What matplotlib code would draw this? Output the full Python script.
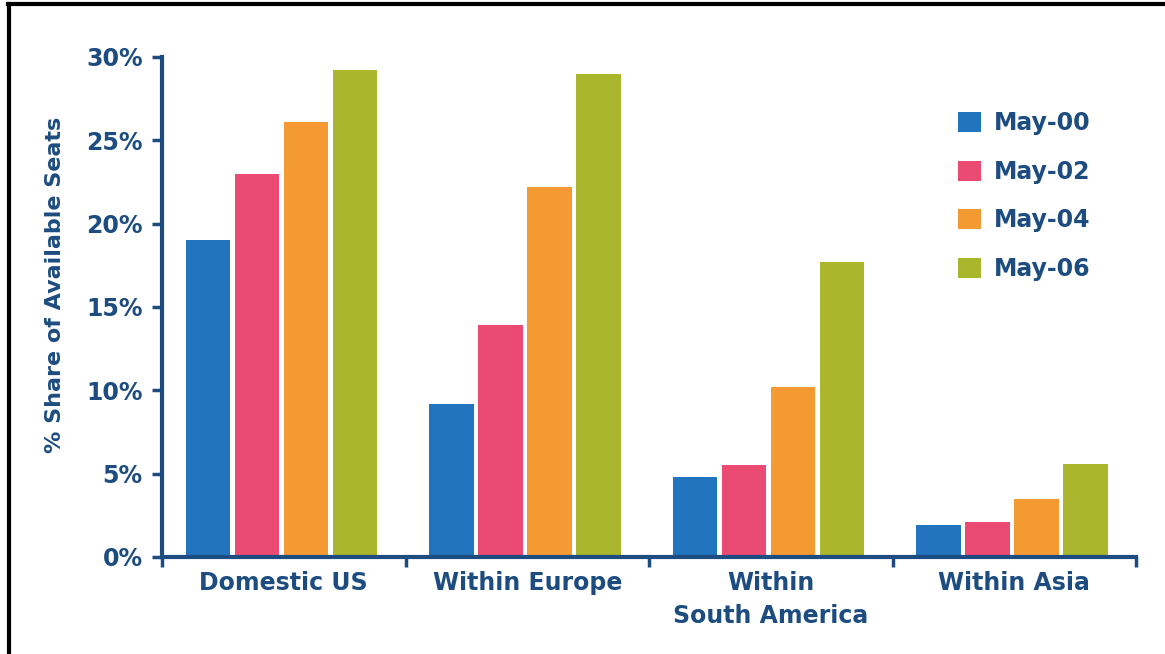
import numpy as np
import matplotlib
matplotlib.use("Agg")
import matplotlib.pyplot as plt
from matplotlib.lines import Line2D

# share of available seats by region, May of each year
regions = ["Domestic US", "Within Europe", "Within\nSouth America", "Within Asia"]
years = ["May-00", "May-02", "May-04", "May-06"]
may_00 = [19.0, 9.2, 4.8, 1.9]
may_02 = [23.0, 13.9, 5.5, 2.1]
may_04 = [26.1, 22.2, 10.2, 3.5]
may_06 = [29.2, 29.0, 17.7, 5.6]
colors = ["#2274BF", "#EB4A73", "#F39A33", "#AAB62D"]
navy = "#1D4C80"

plt.rcParams["font.family"] = ["DejaVu Sans"]
plt.rcParams["font.weight"] = "bold"

fig = plt.figure(figsize=(11.65, 6.54), dpi=100)
ax = fig.add_axes([162 / 1165, 1 - 557 / 654, (1136 - 162) / 1165, 500 / 654])

x = np.arange(len(regions))
series = [may_00, may_02, may_04, may_06]
step = 0.201
for i, (vals, c, lab) in enumerate(zip(series, colors, years)):
    ax.bar(x + (i - 1.5) * step - 0.009, vals, width=0.182, color=c,
           linewidth=0, label=lab, zorder=2)

ax.set_xlim(-0.5, 3.5)
ax.set_ylim(0, 30)
ax.set_yticks([0, 5, 10, 15, 20, 25, 30])
ax.set_yticklabels([f"{v}%" for v in range(0, 31, 5)])
ax.set_xticks(x)
ax.set_xticklabels(regions, fontsize=17, color=navy, va="top", linespacing=1.5)
ax.tick_params(axis="x", length=0, pad=10)
ax.tick_params(axis="y", labelsize=17, labelcolor=navy, color=navy,
               length=7, width=2.5, direction="out", pad=7)
# category boundary ticks on the x axis
ax.set_xticks(np.arange(-0.5, 4.0, 1.0), minor=True)
ax.tick_params(axis="x", which="minor", length=7, width=2.5, color=navy,
               direction="out")

for side in ["top", "right"]:
    ax.spines[side].set_visible(False)
for side in ["left", "bottom"]:
    ax.spines[side].set_color(navy)
    ax.spines[side].set_linewidth(3)
    ax.spines[side].set_zorder(3)

ax.set_ylabel("% Share of Available Seats", fontsize=16, fontweight="bold",
              color=navy)
ax.yaxis.set_label_coords(-0.1, 0.545)

leg = ax.legend(loc="upper left", bbox_to_anchor=(937 / 1165, 1 - 90 / 654),
                bbox_transform=fig.transFigure, frameon=False, fontsize=17,
                handlelength=0.95, handleheight=0.95, labelspacing=1.04,
                handletextpad=0.55)
for t in leg.get_texts():
    t.set_color(navy)
for h in leg.legend_handles:
    h.set_edgecolor("none")

# frame lines along the left and top edges
fig.add_artist(Line2D([9 / 1165, 9 / 1165], [0, 1 - 4 / 654], color="black",
                      linewidth=3, transform=fig.transFigure))
fig.add_artist(Line2D([8 / 1165, 1], [1 - 4 / 654, 1 - 4 / 654], color="black",
                      linewidth=3, transform=fig.transFigure))

fig.savefig("out.png", dpi=100)
